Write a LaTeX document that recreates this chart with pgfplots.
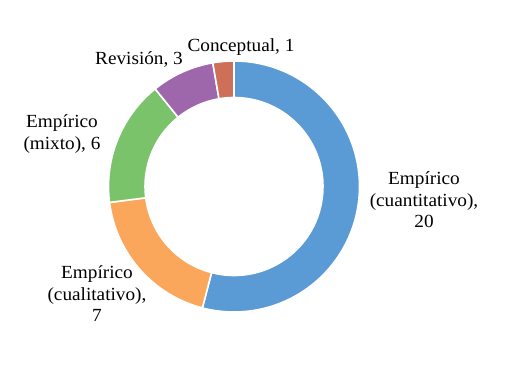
\documentclass[border=0pt]{standalone}
\usepackage{fontspec}
\setmainfont{Liberation Serif}
\usepackage{pgfplots}
\usepackage{pgfplotstable}
\pgfplotsset{compat=1.18}
\definecolor{c1}{HTML}{5B9BD5}
\definecolor{c2}{HTML}{FAA75B}
\definecolor{c3}{HTML}{7AC36A}
\definecolor{c4}{HTML}{9E67AB}
\definecolor{c5}{HTML}{CE7058}
\pgfplotstableread[col sep=comma]{
name,value
Empirico (cuantitativo),20
Empirico (cualitativo),7
Empirico (mixto),6
Revision,3
Conceptual,1
}\data
\pgfplotstablegetelem{0}{value}\of\data \let\vA\pgfplotsretval
\pgfplotstablegetelem{1}{value}\of\data \let\vB\pgfplotsretval
\pgfplotstablegetelem{2}{value}\of\data \let\vC\pgfplotsretval
\pgfplotstablegetelem{3}{value}\of\data \let\vD\pgfplotsretval
\pgfplotstablegetelem{4}{value}\of\data \let\vE\pgfplotsretval
\pgfmathsetmacro\tot{\vA+\vB+\vC+\vD+\vE}
\pgfmathsetmacro\tA{90}
\pgfmathsetmacro\tB{\tA-360*\vA/\tot}
\pgfmathsetmacro\tC{\tB-360*\vB/\tot}
\pgfmathsetmacro\tD{\tC-360*\vC/\tot}
\pgfmathsetmacro\tE{\tD-360*\vD/\tot}
\pgfmathsetmacro\tF{\tE-360*\vE/\tot}
\def\cx{234}
\def\cy{195.5}
\def\Ro{125.5}
\def\Ri{89}
\newcommand{\slice}[3]{%
  \filldraw[fill=#3, draw=white, line width=1.6pt, line join=miter]
    (axis cs:{\cx+\Ro*cos(#1)},{\cy+\Ro*sin(#1)})
    arc[start angle=#1, end angle=#2, radius=\Ro pt]
    -- (axis cs:{\cx+\Ri*cos(#2)},{\cy+\Ri*sin(#2)})
    arc[start angle=#2, end angle=#1, radius=\Ri pt] -- cycle;}
\begin{document}
\begin{tikzpicture}
\begin{axis}[
  width=511pt, height=382pt, scale only axis,
  xmin=0, xmax=511, ymin=0, ymax=382,
  hide axis, clip=false,
]
\path (axis cs:0,0) rectangle (axis cs:511,382);
\slice{\tA}{\tB}{c1}
\slice{\tB}{\tC}{c2}
\slice{\tC}{\tD}{c3}
\slice{\tD}{\tE}{c4}
\slice{\tE}{\tF}{c5}
\tikzset{lbl/.style={font=\fontsize{18.5}{21.5}\selectfont, align=center, inner sep=0pt, xscale=1.04}}
\node[lbl, anchor=base] at (axis cs:241,330) {Conceptual, 1};
\node[lbl, anchor=base] at (axis cs:139,317) {Revisión, 3};
\node[lbl] at (axis cs:62,248) {Empírico\\(mixto), 6};
\node[lbl] at (axis cs:97,88) {Empírico\\(cualitativo),\\7};
\node[lbl] at (axis cs:424,182) {Empírico\\(cuantitativo),\\20};
\end{axis}
\end{tikzpicture}
\end{document}
